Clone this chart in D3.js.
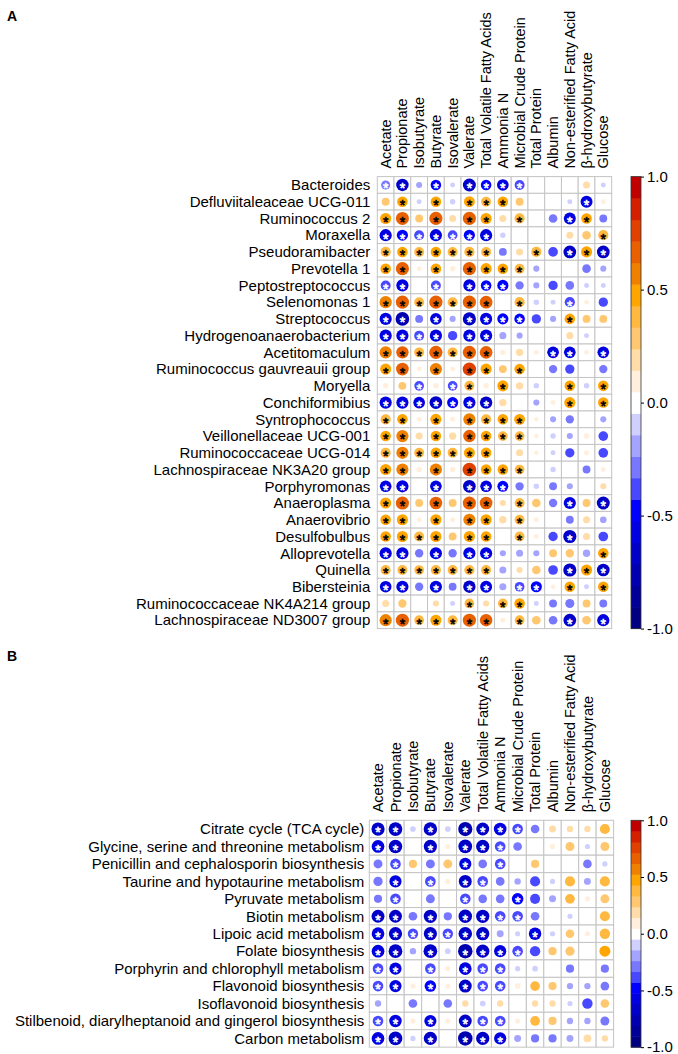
<!DOCTYPE html>
<html>
<head>
<meta charset="utf-8">
<script src="https://cdn.jsdelivr.net/npm/d3@7"></script>
<style>
  body { margin: 0; background: #fff; }
  text { font-family: "Liberation Sans", Arial, sans-serif; }
</style>
</head>
<body>
<div id="chart"></div>
<script>
// column variables (shared by both panels)
const variables = ['Acetate', 'Propionate', 'Isobutyrate', 'Butyrate', 'Isovalerate', 'Valerate',
  'Total Volatile Fatty Acids', 'Ammonia N', 'Microbial Crude Protein', 'Total Protein', 'Albumin',
  'Non-esterified Fatty Acid', 'β-hydroxybutyrate', 'Glucose'];

const genera = ['Bacteroides', 'Defluviitaleaceae UCG-011', 'Ruminococcus 2', 'Moraxella', 'Pseudoramibacter',
  'Prevotella 1', 'Peptostreptococcus', 'Selenomonas 1', 'Streptococcus', 'Hydrogenoanaerobacterium',
  'Acetitomaculum', 'Ruminococcus gauvreauii group', 'Moryella', 'Conchiformibius', 'Syntrophococcus',
  'Veillonellaceae UCG-001', 'Ruminococcaceae UCG-014', 'Lachnospiraceae NK3A20 group', 'Porphyromonas',
  'Anaeroplasma', 'Anaerovibrio', 'Desulfobulbus', 'Alloprevotella', 'Quinella', 'Bibersteinia',
  'Ruminococcaceae NK4A214 group', 'Lachnospiraceae ND3007 group'];

const corrA = [
  [-0.33, -0.62, -0.15, -0.45, -0.1, -0.68, -0.45, -0.55, -0.4, 0, 0, 0, 0.2, -0.1],
  [0.25, 0.45, -0.1, 0.45, -0.12, 0.48, 0.4, 0.45, 0.25, 0, 0, -0.1, -0.58, 0.1],
  [0.5, 0.68, 0.25, 0.7, 0.2, 0.7, 0.5, 0.2, 0.42, 0, -0.3, -0.58, 0.45, -0.25],
  [-0.6, -0.5, -0.4, -0.6, -0.38, -0.5, -0.6, -0.12, 0, 0, 0, 0.2, 0.3, 0.42],
  [0.42, 0.45, 0.4, 0.45, 0.4, 0.42, 0.4, -0.25, 0.2, 0.42, -0.38, -0.65, 0.5, -0.65],
  [0.45, 0.7, 0.1, 0.45, 0.12, 0.7, 0.5, 0.45, 0.4, -0.15, 0, 0, -0.3, -0.15],
  [-0.4, -0.6, 0, -0.4, 0, -0.6, -0.45, -0.5, -0.28, -0.15, -0.35, -0.3, -0.1, -0.1],
  [0.6, 0.7, 0.4, 0.7, 0.4, 0.7, 0.65, 0, 0.42, -0.12, -0.1, -0.42, 0.08, -0.35],
  [-0.6, -0.75, -0.25, -0.55, -0.15, -0.7, -0.6, -0.5, -0.45, -0.35, -0.15, 0.45, 0.25, 0.25],
  [-0.6, -0.6, -0.4, -0.6, -0.35, -0.6, -0.6, -0.2, -0.15, 0, 0, 0.2, -0.1, 0],
  [0.6, 0.62, 0.4, 0.7, 0.4, 0.7, 0.65, 0.12, 0.22, 0.1, -0.55, -0.55, 0.1, -0.55],
  [0.5, 0.65, 0.1, 0.6, 0.1, 0.72, 0.5, 0.25, 0.45, 0, -0.28, -0.35, 0, -0.28],
  [0.12, 0.25, -0.38, 0.12, -0.38, 0.4, 0.12, 0.5, 0.22, -0.12, 0, 0.45, -0.12, 0.45],
  [-0.6, -0.6, -0.55, -0.65, -0.5, -0.6, -0.62, 0.22, 0, -0.15, 0.1, 0.5, 0, 0.45],
  [0.42, 0.45, 0.1, 0.5, 0.1, 0.6, 0.42, 0.45, 0.48, 0.08, -0.15, -0.28, 0, -0.15],
  [0.45, 0.6, 0.2, 0.45, 0.22, 0.62, 0.45, 0.38, 0.38, 0.08, -0.12, -0.15, 0.12, -0.38],
  [0.42, 0.6, 0.4, 0.45, 0.4, 0.5, 0.45, 0, 0.2, 0.08, -0.1, -0.35, 0.1, -0.38],
  [0.5, 0.6, 0.12, 0.6, 0.12, 0.75, 0.45, 0.45, 0.38, 0, -0.12, 0, -0.25, 0.1],
  [-0.55, -0.6, 0, -0.55, 0, -0.65, -0.55, -0.48, -0.28, -0.12, -0.25, -0.15, 0, 0.15],
  [0.5, 0.7, 0.25, 0.65, 0.25, 0.7, 0.65, 0.15, 0.4, 0.3, -0.28, -0.6, 0.25, -0.68],
  [0.45, 0.5, 0.1, 0.5, 0.1, 0.6, 0.5, 0.22, 0.4, 0.1, 0, -0.25, 0.2, -0.18],
  [0.45, 0.5, 0.4, 0.5, 0.25, 0.5, 0.45, 0, 0.4, 0.1, -0.35, -0.7, 0.2, -0.38],
  [-0.6, -0.6, -0.28, -0.6, -0.28, -0.6, -0.6, -0.15, -0.2, -0.15, 0.25, 0.28, -0.22, 0.45],
  [0.4, 0.4, 0.38, 0.42, 0.4, 0.42, 0.4, -0.2, 0.15, 0.3, -0.38, -0.7, 0.5, -0.65],
  [-0.55, -0.6, -0.28, -0.6, -0.25, -0.62, -0.58, -0.2, -0.38, -0.5, 0.08, 0.45, -0.1, 0.45],
  [0.2, 0.28, 0, 0.15, -0.1, 0.38, 0.15, 0.38, 0.45, -0.1, -0.25, -0.33, 0.25, -0.25],
  [0.6, 0.7, 0.38, 0.5, 0.4, 0.7, 0.62, 0.1, 0.38, 0.3, -0.3, -0.65, 0.3, -0.6]
];

// 1 = significant (asterisk)
const sigA = [
  [1,1,0,1,0,1,1,1,1,0,0,0,0,0],
  [0,1,0,1,0,1,1,1,0,0,0,0,1,0],
  [1,1,0,1,0,1,1,0,1,0,0,1,1,0],
  [1,1,1,1,1,1,1,0,0,0,0,0,0,1],
  [1,1,1,1,1,1,1,0,0,1,0,1,1,1],
  [1,1,0,1,0,1,1,1,1,0,0,0,0,0],
  [1,1,0,1,0,1,1,1,0,0,0,0,0,0],
  [1,1,1,1,1,1,1,0,1,0,0,1,0,0],
  [1,1,0,1,0,1,1,1,1,0,0,1,0,0],
  [1,1,1,1,0,1,1,0,0,0,0,0,0,0],
  [1,1,1,1,1,1,1,0,0,0,1,1,0,1],
  [1,1,0,1,0,1,1,0,1,0,0,0,0,0],
  [0,0,1,0,1,1,0,1,0,0,0,1,0,1],
  [1,1,1,1,1,1,1,0,0,0,0,1,0,1],
  [1,1,0,1,0,1,1,1,1,0,0,0,0,0],
  [1,1,0,1,0,1,1,1,1,0,0,0,0,0],
  [1,1,1,1,1,1,1,0,0,0,0,0,0,0],
  [1,1,0,1,0,1,1,1,1,0,0,0,0,0],
  [1,1,0,1,0,1,1,1,0,0,0,0,0,0],
  [1,1,0,1,0,1,1,0,1,0,0,1,0,1],
  [1,1,0,1,0,1,1,0,1,0,0,0,0,0],
  [1,1,1,1,0,1,1,0,1,0,0,1,0,0],
  [1,1,0,1,0,1,1,0,0,0,0,0,0,1],
  [1,1,1,1,1,1,1,0,0,0,0,1,1,1],
  [1,1,0,1,0,1,1,0,1,1,0,1,0,1],
  [0,0,0,0,0,1,0,1,1,0,0,0,0,0],
  [1,1,1,1,1,1,1,0,1,0,0,1,0,1]
];

const pathways = ['Citrate cycle (TCA cycle)', 'Glycine, serine and threonine metabolism',
  'Penicillin and cephalosporin biosynthesis', 'Taurine and hypotaurine metabolism', 'Pyruvate metabolism',
  'Biotin metabolism', 'Lipoic acid metabolism', 'Folate biosynthesis', 'Porphyrin and chlorophyll metabolism',
  'Flavonoid biosynthesis', 'Isoflavonoid biosynthesis', 'Stilbenoid, diarylheptanoid and gingerol biosynthesis',
  'Carbon metabolism'];

const corrB = [
  [-0.65, -0.7, -0.12, -0.68, -0.12, -0.75, -0.62, -0.6, -0.42, -0.28, 0.18, 0.15, 0.15, 0.38],
  [-0.6, -0.68, 0, -0.65, 0.1, -0.7, -0.65, -0.42, -0.28, 0, 0.1, 0.3, -0.1, 0.3],
  [-0.3, -0.42, 0.25, -0.3, 0.3, -0.55, -0.28, -0.42, 0, 0.25, 0, 0, -0.28, -0.1],
  [-0.32, -0.55, 0, -0.42, 0.1, -0.62, -0.42, -0.28, -0.15, -0.38, -0.1, 0.38, -0.18, 0.38],
  [-0.25, -0.42, 0, -0.3, 0, -0.42, -0.28, -0.28, -0.5, -0.38, -0.18, 0.35, 0.1, 0.3],
  [-0.62, -0.62, -0.28, -0.65, -0.25, -0.68, -0.65, -0.42, -0.42, -0.28, 0, -0.1, 0, 0.38],
  [-0.6, -0.65, -0.4, -0.65, -0.4, -0.68, -0.65, -0.18, -0.1, -0.58, -0.1, 0.28, 0.1, 0.4],
  [-0.6, -0.7, -0.15, -0.7, -0.12, -0.78, -0.65, -0.55, -0.42, -0.4, 0.25, 0.32, 0, 0.45],
  [-0.42, -0.55, 0, -0.42, 0.1, -0.6, -0.42, -0.42, -0.1, -0.12, 0, -0.25, 0, -0.25],
  [-0.42, -0.55, 0.1, -0.5, 0.1, -0.62, -0.42, -0.42, 0.12, 0.35, 0.25, -0.15, -0.15, -0.28],
  [-0.15, 0, -0.28, 0, -0.28, 0.15, -0.12, 0.15, 0, 0.15, 0.15, -0.1, -0.4, 0.28],
  [-0.42, -0.58, 0.1, -0.55, 0.1, -0.62, -0.42, -0.42, 0.1, 0.35, 0.25, -0.15, -0.15, -0.3],
  [-0.6, -0.7, -0.1, -0.65, 0, -0.78, -0.65, -0.55, -0.18, -0.25, -0.25, -0.18, 0.22, 0.15]
];

const sigB = [
  [1,1,0,1,0,1,1,1,1,0,0,0,0,0],
  [1,1,0,1,0,1,1,1,0,0,0,0,0,0],
  [0,1,0,0,0,1,0,1,0,0,0,0,0,0],
  [0,1,0,1,0,1,1,0,0,0,0,0,0,0],
  [0,1,0,0,0,1,0,0,1,0,0,0,0,0],
  [1,1,0,1,0,1,1,1,1,0,0,0,0,0],
  [1,1,1,1,1,1,1,0,0,1,0,0,0,0],
  [1,1,0,1,0,1,1,1,1,0,0,0,0,0],
  [1,1,0,1,0,1,1,1,0,0,0,0,0,0],
  [1,1,0,1,0,1,1,1,0,0,0,0,0,0],
  [0,0,0,0,0,0,0,0,0,0,0,0,0,0],
  [1,1,0,1,0,1,1,1,0,0,0,0,0,0],
  [1,1,0,1,0,1,1,1,0,0,0,0,0,0]
];

const legendTicks = [1, 0.5, 0, -0.5, -1];

// discrete palette, 21 bins from -1 to 1
const palette = ['#000080', '#000098', '#0000b0', '#0000c8', '#0000e0', '#0000ff', '#4848ff', '#7878ff',
  '#a4a4ff', '#d0d0ff', '#ffffff', '#ffefdc', '#ffdca8', '#ffc870', '#ffb840', '#ffa500', '#f08000',
  '#e86000', '#e04000', '#d42000', '#c00000'];

const color = d3.scaleQuantize().domain([-1, 1]).range(palette);

const svg = d3.select('#chart').append('svg')
  .attr('width', 678)
  .attr('height', 1054);

function drawPanel(opt) {
  const g = svg.append('g');
  const w = opt.cell * variables.length;
  const h = opt.cell * opt.rows.length;

  const x = d3.scaleBand().domain(variables).range([opt.left, opt.left + w]);
  const y = d3.scaleBand().domain(opt.rows).range([opt.top, opt.top + h]);
  const r = d3.scaleSqrt().domain([0, 1]).range([0, opt.cell * 0.47]);

  // grid
  const cells = [];
  opt.rows.forEach((row, i) => variables.forEach((v, j) => {
    cells.push({ row, v, val: opt.corr[i][j], sig: opt.sig[i][j] });
  }));

  g.selectAll('rect.cell').data(cells).enter().append('rect')
    .attr('x', (d) => x(d.v))
    .attr('y', (d) => y(d.row))
    .attr('width', x.bandwidth())
    .attr('height', y.bandwidth())
    .attr('fill', '#fff')
    .attr('stroke', '#c4c4c4')
    .attr('stroke-width', 1);

  g.selectAll('circle').data(cells.filter((d) => Math.abs(d.val) > 0.04)).enter().append('circle')
    .attr('cx', (d) => x(d.v) + x.bandwidth() / 2)
    .attr('cy', (d) => y(d.row) + y.bandwidth() / 2)
    .attr('r', (d) => r(Math.abs(d.val)))
    .attr('fill', (d) => color(d.val));

  // significance marks, kept small enough that their boxes stay inside a cell
  g.selectAll('text.star').data(cells.filter((d) => d.sig)).enter().append('text')
    .attr('x', (d) => x(d.v) + x.bandwidth() / 2)
    .attr('y', (d) => y(d.row) + y.bandwidth() / 2)
    .attr('dy', '0.6em')
    .attr('text-anchor', 'middle')
    .style('font-size', '14px')
    .attr('fill', (d) => (d.val < 0 ? '#fff' : '#000'))
    .attr('stroke', (d) => (d.val < 0 ? '#fff' : '#000'))
    .attr('stroke-width', 0.6)
    .text('*');

  // row labels
  g.selectAll('text.row').data(opt.rows).enter().append('text')
    .attr('x', opt.left - opt.labelGap)
    .attr('y', (d) => y(d) + y.bandwidth() / 2)
    .attr('dy', '0.35em')
    .attr('text-anchor', 'end')
    .style('font-size', '15px')
    .text((d) => d);

  // column labels
  g.selectAll('text.col').data(variables).enter().append('text')
    .attr('transform', (d) => `translate(${x(d) + x.bandwidth() / 2},${opt.top - 8}) rotate(-90)`)
    .attr('dy', '0.35em')
    .style('font-size', '14.5px')
    .text((d) => d);

  // colour bar
  const cy = d3.scaleLinear().domain([-1, 1]).range([opt.top + h, opt.top]);
  const step = 2 / palette.length;
  g.selectAll('rect.bin').data(palette).enter().append('rect')
    .attr('x', opt.barX)
    .attr('y', (d, i) => cy(-1 + (i + 1) * step))
    .attr('width', 10)
    .attr('height', (d, i) => cy(-1 + i * step) - cy(-1 + (i + 1) * step) + 0.5)
    .attr('fill', (d) => d);
  g.append('rect')
    .attr('x', opt.barX).attr('y', opt.top)
    .attr('width', 10).attr('height', h)
    .attr('fill', 'none').attr('stroke', '#333').attr('stroke-width', 0.8);

  const axis = g.append('g')
    .attr('transform', `translate(${opt.barX + 10},0)`)
    .call(d3.axisRight(cy).tickValues(legendTicks).tickSize(3).tickFormat((d) => d.toFixed(1)));
  axis.select('.domain').remove();
  axis.selectAll('text')
    .attr('x', 6)
    .style('font-size', '15px')
    .style('font-family', '"Liberation Sans", Arial, sans-serif');

  svg.append('text')
    .attr('x', 7).attr('y', opt.tagY)
    .style('font-size', '14px')
    .style('font-weight', 'bold')
    .text(opt.tag);
}

drawPanel({ tag: 'A', tagY: 21, rows: genera, corr: corrA, sig: sigA,
  left: 377.3, top: 176.6, cell: 16.74, labelGap: 7, barX: 631 });

drawPanel({ tag: 'B', tagY: 661, rows: pathways, corr: corrB, sig: sigB,
  left: 369.3, top: 820.3, cell: 17.45, labelGap: 5, barX: 631 });
</script>
</body>
</html>
